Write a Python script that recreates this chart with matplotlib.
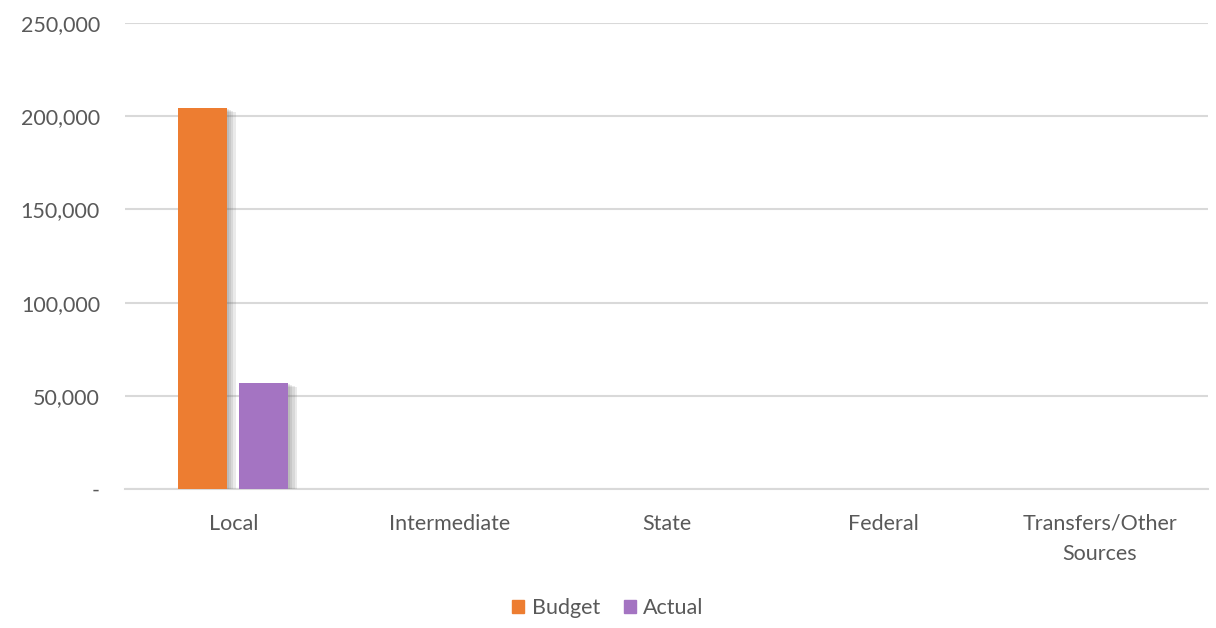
import matplotlib.pyplot as plt
import matplotlib.patheffects as pe
from matplotlib.patches import Patch
import numpy as np
from matplotlib.ticker import FuncFormatter

categories = ["Local", "Intermediate", "State", "Federal", "Transfers/Other\nSources"]
budget = [204500, 0, 0, 0, 0]
actual = [57000, 0, 0, 0, 0]
y_ticks = [0, 50000, 100000, 150000, 200000, 250000]

plt.rcParams['font.family'] = ['Lato', 'DejaVu Sans']
text_color = '#595959'
budget_color = '#ED7D31'
actual_color = '#A474C2'

fig = plt.figure(figsize=(12.16, 6.28), dpi=100)
ax = fig.add_axes([125/1216, 1 - 489/628, (1208-125)/1216, (489-23)/628])

x = np.arange(len(categories))
w = 0.226
off = 0.141

# soft drop shadow built from a few stacked translucent offsets
shadow = [pe.SimplePatchShadow(offset=(d, -d * 0.5), shadow_rgbFace='#606060', alpha=0.13)
          for d in (6, 4.5, 3, 1.5)] + [pe.Normal()]
b1 = ax.bar(x - off, budget, w, color=budget_color, zorder=3)
b2 = ax.bar(x + off, actual, w, color=actual_color, zorder=3)
for bar in list(b1) + list(b2):
    if bar.get_height() > 0:
        bar.set_path_effects(shadow)

ax.set_xlim(-0.5, len(categories) - 0.5)
ax.set_ylim(0, 250000)
ax.set_yticks(y_ticks)
ax.yaxis.set_major_formatter(FuncFormatter(lambda v, p: '-' if v == 0 else f'{int(v):,}'))
ax.set_xticks(x)
ax.set_xticklabels(categories, linespacing=1.65)

ax.grid(axis='y', color='#D9D9D9', linewidth=1.5, zorder=0)
for s in ['top', 'right', 'left']:
    ax.spines[s].set_visible(False)
ax.spines['bottom'].set_color('#D9D9D9')
ax.spines['bottom'].set_linewidth(1.5)
ax.tick_params(axis='both', length=0, labelsize=15.5, labelcolor=text_color)
ax.tick_params(axis='y', pad=18)
ax.tick_params(axis='x', pad=18)

handles = [Patch(color=budget_color, label='Budget'), Patch(color=actual_color, label='Actual')]
leg = fig.legend(handles=handles, loc='center', bbox_to_anchor=(0.5, 1 - 608/628),
                 ncol=2, frameon=False, fontsize=15.5, handlelength=0.55, handleheight=0.55,
                 handletextpad=0.35, columnspacing=1.1)
for t in leg.get_texts():
    t.set_color(text_color)

fig.savefig('out.png', dpi=100)
